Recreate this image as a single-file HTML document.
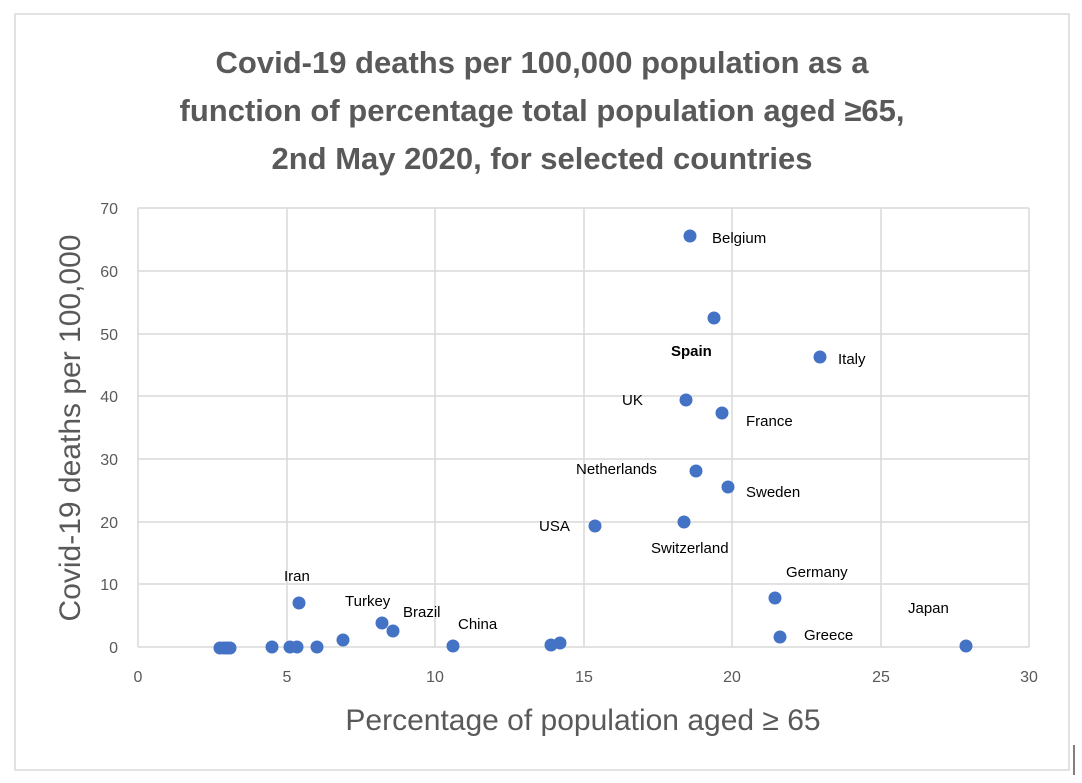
<!DOCTYPE html>
<html><head><meta charset="utf-8"><style>
body{margin:0;background:#fff;}
svg{display:block;font-family:"Liberation Sans",sans-serif;}
</style></head><body>
<svg width="1082" height="783" viewBox="0 0 1082 783">
<rect x="15" y="14" width="1054" height="756" fill="#fff" stroke="#d9d9d9" stroke-width="1.5"/>
<line x1="1074" y1="745" x2="1074" y2="775" stroke="#000" stroke-width="1"/>
<g font-family="Liberation Sans, sans-serif" font-weight="bold" font-size="31" fill="#595959" text-anchor="middle">
<text x="542" y="73">Covid-19 deaths per 100,000 population as a</text>
<text x="542" y="121">function of percentage total population aged ≥65,</text>
<text x="542" y="169">2nd May 2020, for selected countries</text>
</g>
<g stroke="#d9d9d9" stroke-width="1.5">
<line x1="138" y1="208" x2="1029" y2="208"/>
<line x1="138" y1="271" x2="1029" y2="271"/>
<line x1="138" y1="334" x2="1029" y2="334"/>
<line x1="138" y1="396" x2="1029" y2="396"/>
<line x1="138" y1="459" x2="1029" y2="459"/>
<line x1="138" y1="522" x2="1029" y2="522"/>
<line x1="138" y1="584" x2="1029" y2="584"/>
<line x1="138" y1="647" x2="1029" y2="647"/>
<line x1="138" y1="208" x2="138" y2="647"/>
<line x1="287" y1="208" x2="287" y2="647"/>
<line x1="435" y1="208" x2="435" y2="647"/>
<line x1="584" y1="208" x2="584" y2="647"/>
<line x1="732" y1="208" x2="732" y2="647"/>
<line x1="881" y1="208" x2="881" y2="647"/>
<line x1="1029" y1="208" x2="1029" y2="647"/>
</g>
<g font-size="16" fill="#595959" text-anchor="end">
<text x="118" y="214">70</text><text x="118" y="277">60</text><text x="118" y="340">50</text>
<text x="118" y="402">40</text><text x="118" y="465">30</text><text x="118" y="528">20</text>
<text x="118" y="590">10</text><text x="118" y="653">0</text>
</g>
<g font-size="16" fill="#595959" text-anchor="middle">
<text x="138" y="682">0</text><text x="287" y="682">5</text><text x="435" y="682">10</text>
<text x="584" y="682">15</text><text x="732" y="682">20</text><text x="881" y="682">25</text><text x="1029" y="682">30</text>
</g>
<text x="583" y="730" font-size="30" fill="#595959" text-anchor="middle">Percentage of population aged ≥ 65</text>
<text transform="translate(80,428) rotate(-90)" font-size="30" fill="#595959" text-anchor="middle">Covid-19 deaths per 100,000</text>
<g fill="#4472c4">
<circle cx="220" cy="648" r="6.5"/><circle cx="224" cy="648" r="6.5"/><circle cx="227" cy="648" r="6.5"/><circle cx="230" cy="648" r="6.5"/>
<circle cx="272" cy="647" r="6.5"/><circle cx="290" cy="647" r="6.5"/><circle cx="297" cy="647" r="6.5"/><circle cx="317" cy="647" r="6.5"/>
<circle cx="343" cy="640" r="6.5"/><circle cx="382" cy="623" r="6.5"/><circle cx="393" cy="631" r="6.5"/>
<circle cx="453" cy="646" r="6.5"/><circle cx="551" cy="645" r="6.5"/><circle cx="560" cy="643" r="6.5"/>
<circle cx="299" cy="603" r="6.5"/>
<circle cx="690" cy="236" r="6.5"/><circle cx="714" cy="318" r="6.5"/><circle cx="820" cy="357" r="6.5"/>
<circle cx="686" cy="400" r="6.5"/><circle cx="722" cy="413" r="6.5"/><circle cx="696" cy="471" r="6.5"/>
<circle cx="728" cy="487" r="6.5"/><circle cx="595" cy="526" r="6.5"/><circle cx="684" cy="522" r="6.5"/>
<circle cx="775" cy="598" r="6.5"/><circle cx="780" cy="637" r="6.5"/><circle cx="966" cy="646" r="6.5"/>
</g>
<g font-size="15" fill="#000">
<text x="712" y="243">Belgium</text>
<text x="671" y="356" font-weight="bold">Spain</text>
<text x="838" y="364">Italy</text>
<text x="622" y="405">UK</text>
<text x="746" y="426">France</text>
<text x="576" y="474">Netherlands</text>
<text x="746" y="497">Sweden</text>
<text x="539" y="531">USA</text>
<text x="651" y="553">Switzerland</text>
<text x="786" y="577">Germany</text>
<text x="804" y="640">Greece</text>
<text x="908" y="613">Japan</text>
<text x="284" y="581">Iran</text>
<text x="345" y="606">Turkey</text>
<text x="403" y="617">Brazil</text>
<text x="458" y="629">China</text>
</g>
</svg>
</body></html>
